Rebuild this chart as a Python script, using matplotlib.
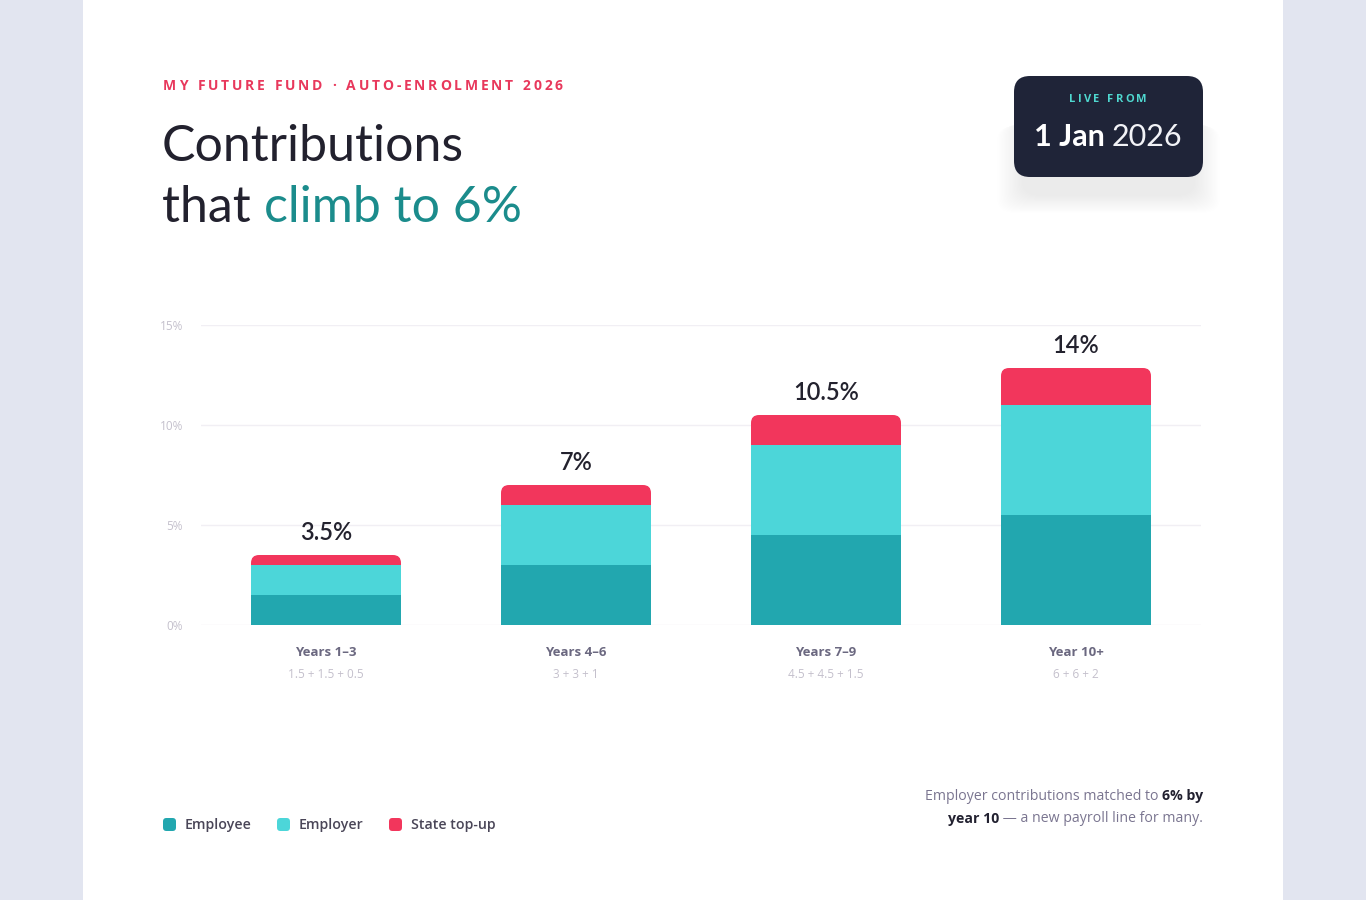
import matplotlib
matplotlib.use("Agg")
import matplotlib.pyplot as plt
from matplotlib.patches import FancyBboxPatch, Rectangle
import numpy as np

W, H = 1366, 900

# data
categories = ["Years 1\u20133", "Years 4\u20136", "Years 7\u20139", "Year 10+"]
splits = ["1.5 + 1.5 + 0.5", "3 + 3 + 1", "4.5 + 4.5 + 1.5", "6 + 6 + 2"]
employee = [1.5, 3.0, 4.5, 5.5]
employer = [1.5, 3.0, 4.5, 5.5]
state = [0.5, 1.0, 1.5, 1.85]
total_labels = ["3.5%", "7%", "10.5%", "14%"]
y_ticks = [0, 5, 10, 15]
series_names = ["Employee", "Employer", "State top-up"]

c_employee = "#22a7af"
c_employer = "#4cd6d9"
c_state = "#f2365c"
navy = "#1f2438"
teal_txt = "#1b8c8c"
red_txt = "#e8385c"

plt.rcParams["font.family"] = ["Open Sans", "DejaVu Sans"]

fig = plt.figure(figsize=(W / 100, H / 100), dpi=100)
fig.patch.set_facecolor("#e2e5f0")
renderer = fig.canvas.get_renderer()


def fx(x):
    return x / W


def fy(y):
    return 1 - y / H


# white card
fig.patches.append(Rectangle((fx(83), 0), fx(1200), 1, transform=fig.transFigure,
                             facecolor="white", edgecolor="none", zorder=-5))


def spaced_text(x, y, s, spacing, align="left", **kw):
    # draw characters one by one to mimic letter-spacing
    widths = []
    for ch in s:
        t = fig.text(0, 0, ch if ch != " " else "i", **kw)
        widths.append(t.get_window_extent(renderer).width)
        t.remove()
    total = sum(widths) + spacing * (len(s) - 1)
    if align == "center":
        x = x - total / 2
    for ch, w in zip(s, widths):
        if ch != " ":
            fig.text(fx(x), fy(y), ch, va="center", ha="left", **kw)
        x += w + spacing


# kicker + title
spaced_text(163, 86, "MY FUTURE FUND \u00b7 AUTO-ENROLMENT 2026", 2.8,
            fontsize=10, fontweight="bold", color=red_txt, family="Open Sans")
fig.text(fx(162), fy(161), "Contributions", fontsize=36, color="#22212e",
         family="Lato", va="baseline", ha="left")
t1 = fig.text(fx(162), fy(222), "that ", fontsize=36, color="#22212e",
              family="Lato", va="baseline", ha="left")
w1 = t1.get_window_extent(renderer).width
fig.text(fx(162 + w1), fy(222), "climb to 6%", fontsize=36, color=teal_txt,
         family="Lato", va="baseline", ha="left")

# badge with soft shadow below
for i in range(20):
    grow = i * 1.3
    fig.patches.append(FancyBboxPatch(
        (fx(1022 - grow), fy(196 + grow * 0.7)),
        fx(173 + 2 * grow), (80 + grow * 0.3) / H,
        boxstyle="round,pad=0,rounding_size=0.015", transform=fig.transFigure,
        facecolor="#3a4060", edgecolor="none", alpha=0.0045, zorder=1))
fig.patches.append(FancyBboxPatch(
    (fx(1014), fy(177)), fx(189), 101 / H,
    boxstyle="round,pad=0,rounding_size=0.0117", mutation_aspect=W / H,
    transform=fig.transFigure, facecolor=navy, edgecolor="none", zorder=2))
spaced_text(1108, 100, "LIVE FROM", 2.2, align="center", fontsize=8,
            fontweight="bold", color="#4fd8d0", zorder=3)
ta = fig.text(0, 0, "1 Jan ", fontsize=22, fontweight="bold", family="Lato")
wa = ta.get_window_extent(renderer).width
ta.remove()
tb = fig.text(0, 0, "2026", fontsize=22, fontweight="normal", family="Lato")
wb = tb.get_window_extent(renderer).width
tb.remove()
x0 = 1108 - (wa + wb) / 2
fig.text(fx(x0), fy(146), "1 Jan ", fontsize=22, fontweight="bold", family="Lato",
         color="white", va="baseline", zorder=3)
fig.text(fx(x0 + wa), fy(146), "2026", fontsize=22, fontweight="normal", family="Lato",
         color="#f2f3f7", va="baseline", zorder=3)

# chart
ax = fig.add_axes([fx(201), fy(625), fx(1000), 300 / H])
ax.set_facecolor("none")
ax.set_xlim(-0.5, 3.5)
ax.set_ylim(0, 15)
x = np.arange(len(categories))
bw = 0.6
emp = np.array(employee)
er = np.array(employer)
st = np.array(state)
b1 = ax.bar(x, emp, bw, color=c_employee, zorder=2)
b2 = ax.bar(x, er, bw, bottom=emp, color=c_employer, zorder=2)
b3 = ax.bar(x, st, bw, bottom=emp + er, color=c_state, zorder=2)

# round the top corners of each stack
tops = emp + er + st
for i in range(len(x)):
    clip = FancyBboxPatch((x[i] - bw / 2, -1), bw, tops[i] + 1,
                          boxstyle="round,pad=0,rounding_size=0.032",
                          mutation_aspect=12.5, transform=ax.transData)
    for bars in (b1, b2, b3):
        bars[i].set_clip_path(clip)
    ax.annotate(total_labels[i], (x[i], tops[i]), xytext=(0, 16.5),
                textcoords="offset points", ha="center", va="center",
                fontsize=17, fontweight="semibold", family="Lato", color="#23222e")

ax.set_yticks(y_ticks)
ax.set_yticklabels([f"{v}%" for v in y_ticks], fontsize=8.5, color="#c4c0cc")
ax.tick_params(axis="y", length=0, pad=13)
ax.set_xticks([])
ax.grid(axis="y", color="#f1eff4", linewidth=1, zorder=0)
for s in ax.spines.values():
    s.set_visible(False)

for i in range(len(x)):
    ax.annotate(categories[i], (x[i], 0), xytext=(0, -19.5), textcoords="offset points",
                ha="center", va="center", fontsize=9.5, fontweight="bold",
                color="#6b6880")
    ax.annotate(splits[i], (x[i], 0), xytext=(0, -35.5), textcoords="offset points",
                ha="center", va="center", fontsize=8.5, color="#c4c0cc")

# legend
legend_x = [163, 277, 389]
for lx, name, col in zip(legend_x, series_names, [c_employee, c_employer, c_state]):
    fig.patches.append(FancyBboxPatch((fx(lx), fy(831)), fx(13), 13 / H,
                                      boxstyle="round,pad=0,rounding_size=0.0025",
                                      mutation_aspect=W / H, transform=fig.transFigure,
                                      facecolor=col, edgecolor="none"))
    fig.text(fx(lx + 22), fy(825), name, fontsize=10.2, fontweight="semibold",
             color="#4a4658", va="center", ha="left")

# footnote (right aligned, mixed weight)
note_kw = dict(fontsize=10.2, va="center")
lines = [
    [("Employer contributions matched to ", "normal", "#7a7590"), ("6% by", "bold", "#222130")],
    [("year 10", "bold", "#222130"), (" \u2014 a new payroll line for many.", "normal", "#7a7590")],
]
for ly, parts in zip([796, 819], lines):
    widths = []
    for txt, wt, col in parts:
        tt = fig.text(0, 0, txt, fontweight=wt, **note_kw)
        widths.append(tt.get_window_extent(renderer).width)
        tt.remove()
    cx = 1203 - sum(widths)
    for (txt, wt, col), w in zip(parts, widths):
        fig.text(fx(cx), fy(ly), txt, fontweight=wt, color=col, ha="left", **note_kw)
        cx += w

fig.savefig("out.png", dpi=100, facecolor=fig.get_facecolor())
